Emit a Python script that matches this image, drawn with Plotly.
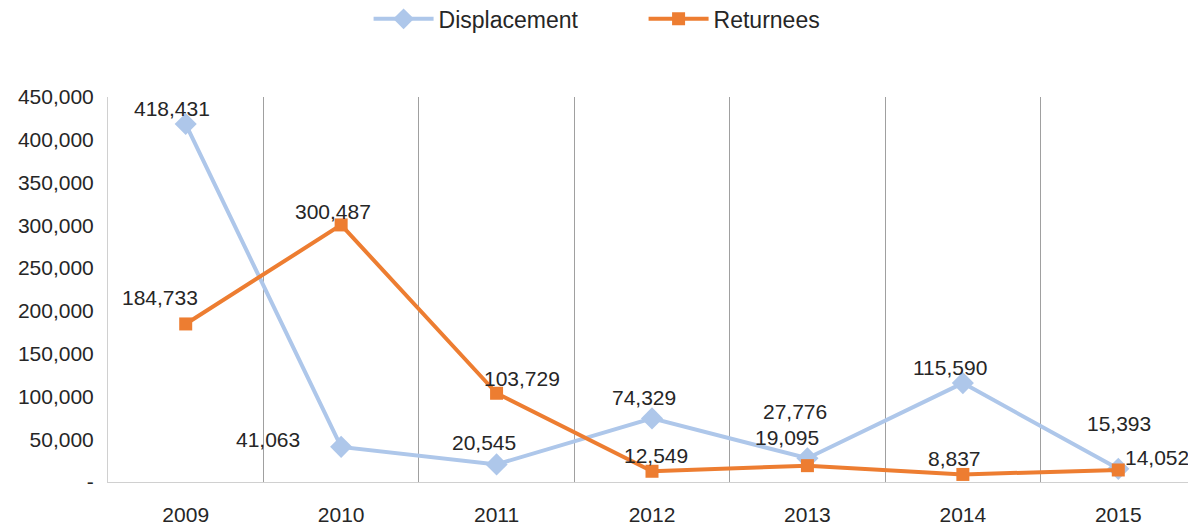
import plotly.graph_objects as go

# data
years = [2009, 2010, 2011, 2012, 2013, 2014, 2015]
displacement = [418431, 41063, 20545, 74329, 27776, 115590, 15393]
returnees = [184733, 300487, 103729, 12549, 19095, 8837, 14052]
y_ticks = [0, 50000, 100000, 150000, 200000, 250000, 300000, 350000, 400000, 450000]
y_ticktext = ["-", "50,000", "100,000", "150,000", "200,000", "250,000",
              "300,000", "350,000", "400,000", "450,000"]

FONT = "Liberation Sans, Arial, sans-serif"
TXT = "#262626"

# label offsets in pixels (x, y up) - hand placed like the original
disp_shift = [(-14, 16), (-73, 7), (-13, 22), (-8, 21), (-12, 47), (-13, 16), (1, 45)]
ret_shift = [(-26, 26), (-8, 13), (25, 15), (4, 16), (-20, 28), (-8, 16), (39, 12)]

fig = go.Figure()

fig.add_trace(go.Scatter(
    x=years, y=displacement, mode="lines+markers", name="Displacement",
    line=dict(color="#AEC7EA", width=4),
    marker=dict(symbol="diamond", size=17, color="#AEC7EA"),
))
fig.add_trace(go.Scatter(
    x=years, y=returnees, mode="lines+markers", name="Returnees",
    line=dict(color="#ED7D31", width=4),
    marker=dict(symbol="square", size=13, color="#ED7D31"),
))

annotations = []
for vals, shifts in ((displacement, disp_shift), (returnees, ret_shift)):
    for yr, v, (dx, dy) in zip(years, vals, shifts):
        annotations.append(dict(
            x=yr, y=v, text=f"{v:,}", showarrow=False,
            xshift=dx, yshift=dy, font=dict(size=21, color=TXT, family=FONT),
        ))

# page body has an 8px margin, so the figure is 8px smaller than the window
fig.update_layout(
    width=1188, height=518,
    margin=dict(l=100, r=0, t=89, b=44, autoexpand=False),
    plot_bgcolor="white", paper_bgcolor="white",
    font=dict(family=FONT, size=21, color=TXT),
    showlegend=True,
    legend=dict(orientation="h", xref="container", yref="container",
                x=0.535, xanchor="center", y=0.979, yanchor="middle",
                font=dict(size=23, color=TXT), entrywidth=200, itemwidth=60),
    annotations=annotations,
)

fig.update_xaxes(
    range=[2008.5, 2015.5], tickvals=years, ticktext=[str(y) for y in years],
    showgrid=False, zeroline=False, ticks="", ticklabelstandoff=14, automargin=False,
    showline=True, linecolor="#D0D0D0", linewidth=1,
    minor=dict(tickvals=[2009.5, 2010.5, 2011.5, 2012.5, 2013.5, 2014.5],
               showgrid=True, gridcolor="#A0A0A0", gridwidth=1, ticks=""),
)
fig.update_yaxes(
    range=[0, 450000], tickvals=y_ticks, ticktext=y_ticktext,
    showgrid=False, zeroline=False, ticks="", ticklabelstandoff=9, automargin=False,
    showline=True, linecolor="#D0D0D0", linewidth=1,
)

fig.write_html("out.html")
